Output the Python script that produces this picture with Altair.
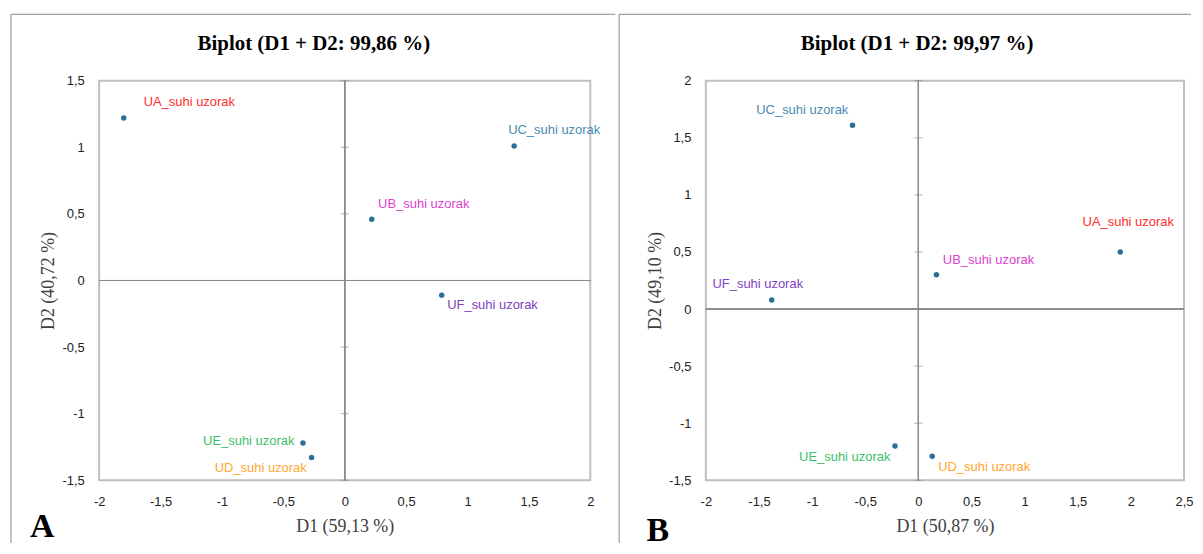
import altair as alt
import pandas as pd

# ---------------- data ----------------
names = ["UA_suhi uzorak", "UB_suhi uzorak", "UC_suhi uzorak",
         "UD_suhi uzorak", "UE_suhi uzorak", "UF_suhi uzorak"]
label_colors = ["#FF2E2E", "#DD3FCF", "#4A8AB2", "#FFA630", "#3DBE6E", "#7E43BE"]

a_d1 = [-1.80, 0.22, 1.38, -0.27, -0.34, 0.79]
a_d2 = [1.22, 0.46, 1.01, -1.33, -1.22, -0.11]
b_d1 = [1.90, 0.17, -0.62, 0.13, -0.22, -1.38]
b_d2 = [0.50, 0.30, 1.61, -1.29, -1.20, 0.08]

a_title = "Biplot (D1 + D2: 99,86 %)"
b_title = "Biplot (D1 + D2: 99,97 %)"
a_xtitle, a_ytitle = "D1 (59,13 %)", "D2 (40,72 %)"
b_xtitle, b_ytitle = "D1 (50,87 %)", "D2 (49,10 %)"
a_xticks = [-2, -1.5, -1, -0.5, 0, 0.5, 1, 1.5, 2]
a_yticks = [-1.5, -1, -0.5, 0, 0.5, 1, 1.5]
b_xticks = [-2, -1.5, -1, -0.5, 0, 0.5, 1, 1.5, 2, 2.5]
b_yticks = [-1.5, -1, -0.5, 0, 0.5, 1, 1.5, 2]

# label placement (style): align, dx, dy
a_lab = [("left", 20, -15.6), ("left", 6.4, -15), ("left", -6, -15.7),
         ("right", -4.8, 10.6), ("right", -8.6, -2), ("left", 5.5, 10.3)]
b_lab = [("center", 8, -30), ("left", 6.4, -15.3), ("right", -4.2, -15.7),
         ("left", 6, 11), ("right", -4.6, 11), ("center", -14, -15.7)]

POINT = "#2B6F96"
ZERO = "#8C8C8C"
BORDER = "#8A8A8A"
LABEL_EXPR = "replace(toString(datum.value), '.', ',')"


def panel(d1, d2, labs, xticks, yticks, title, xtitle, ytitle, letter,
          w, h, title_dx, letter_x, letter_y, right_ext, is_first):
    df = pd.DataFrame({"name": names, "x": d1, "y": d2, "c": label_colors})
    xs = alt.Scale(domain=[xticks[0], xticks[-1]], nice=False, zero=False)
    ys = alt.Scale(domain=[yticks[0], yticks[-1]], nice=False, zero=False)
    common = dict(domain=False, ticks=False, grid=False, labelPadding=15,
                  labelFlush=False, labelOverlap=False,
                  labelFont="Liberation Sans", labelFontSize=13, labelColor="#222222",
                  titleFont="Liberation Serif", titleFontSize=18,
                  titleFontWeight="normal", titleColor="#404040")
    xaxis = alt.Axis(values=xticks, labelExpr=LABEL_EXPR, title=xtitle,
                     titlePadding=9, **common)
    yaxis = alt.Axis(values=yticks, labelExpr=LABEL_EXPR, title=ytitle,
                     titlePadding=4, **common)
    X = lambda f: alt.X(f, scale=xs, axis=xaxis)
    Y = lambda f: alt.Y(f, scale=ys, axis=yaxis)

    hline = alt.Chart(df).mark_rule(color=ZERO, strokeWidth=1).encode(y=alt.datum(0))
    vline = alt.Chart(df).mark_rule(color=ZERO, strokeWidth=1).encode(x=alt.datum(0))
    tdf = pd.DataFrame({"t": yticks, "z": [0] * len(yticks)})
    ticks = alt.Chart(tdf).mark_tick(orient="horizontal", size=8, thickness=1,
                                     color=ZERO).encode(x=X("z:Q"), y=Y("t:Q"))
    pts = alt.Chart(df).mark_circle(size=30, color=POINT, opacity=1).encode(
        x=X("x:Q"), y=Y("y:Q"))

    layers = [hline, vline, ticks, pts]
    for i, (al, dx, dy) in enumerate(labs):
        layers.append(
            alt.Chart(df.iloc[[i]]).mark_text(
                align=al, baseline="middle", dx=dx, dy=dy,
                font="Liberation Sans", fontSize=13, color=label_colors[i]
            ).encode(x=X("x:Q"), y=Y("y:Q"), text="name:N"))

    tt = pd.DataFrame({"t": [title], "l": [letter]})
    layers.append(alt.Chart(tt).mark_text(
        font="Liberation Serif", fontSize=21, fontWeight="bold", color="#000000",
        align="center", baseline="alphabetic").encode(
        text="t:N", x=alt.value(w / 2 + title_dx), y=alt.value(-30.7)))
    layers.append(alt.Chart(tt).mark_text(
        font="Liberation Serif", fontSize=34, fontWeight="bold", color="#000000",
        align="left", baseline="alphabetic").encode(
        text="l:N", x=alt.value(letter_x), y=alt.value(letter_y)))

    # panel border
    left = -88.5 if is_first else -87
    top = -66.7
    bottom = 464
    layers.append(alt.Chart(tt).mark_rule(color=BORDER, strokeWidth=1).encode(
        x=alt.value(left), x2=alt.value(w + right_ext), y=alt.value(top)))
    layers.append(alt.Chart(tt).mark_rule(color=BORDER, strokeWidth=1).encode(
        x=alt.value(left), y=alt.value(top), y2=alt.value(bottom)))

    return alt.layer(*layers).properties(width=w, height=h)


pa = panel(a_d1, a_d2, a_lab, a_xticks, a_yticks, a_title, a_xtitle, a_ytitle, "A",
           493, 401, -31, -69.5, 458.3, 25, True)
pb = panel(b_d1, b_d2, b_lab, b_xticks, b_yticks, b_title, b_xtitle, b_ytitle, "B",
           480, 401, -28, -59.6, 461.7, 7, False)

chart = alt.hconcat(pa, pb, spacing=0).properties(
    padding={"left": 1.5, "top": 3, "right": 0, "bottom": 0}
).configure_view(stroke="#BFBFBF", strokeWidth=2)

chart.save("out.html", embed_options={"renderer": "svg", "actions": False})
